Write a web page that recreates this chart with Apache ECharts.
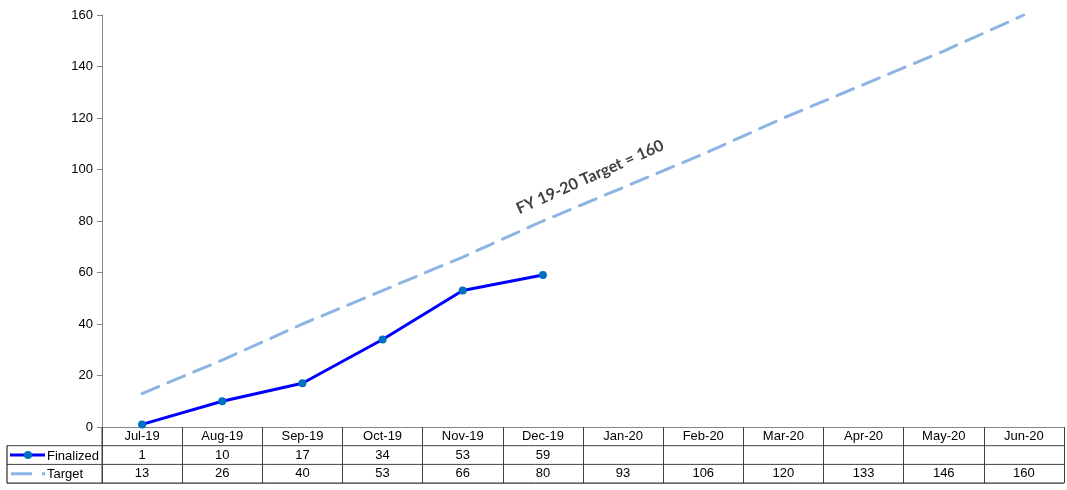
<!DOCTYPE html>
<html>
<head>
<meta charset="utf-8">
<script src="https://cdn.jsdelivr.net/npm/echarts@6/dist/echarts.min.js"></script>
<style>
  html, body { margin: 0; padding: 0; background: #fff; }
  #chart { width: 1067px; height: 490px; }
</style>
</head>
<body>
<div id="chart"></div>
<script>
const months = ['Jul-19', 'Aug-19', 'Sep-19', 'Oct-19', 'Nov-19', 'Dec-19', 'Jan-20', 'Feb-20', 'Mar-20', 'Apr-20', 'May-20', 'Jun-20'];
const finalized = [1, 10, 17, 34, 53, 59, null, null, null, null, null, null];
const target = [13, 26, 40, 53, 66, 80, 93, 106, 120, 133, 146, 160];
const yTicks = { min: 0, max: 160, step: 20 };

const font = 'Liberation Sans, Arial, sans-serif';
const lineColor = '#404040';

// layout of the plot + data table
const L = 102, R = 1064, T = 15, B = 427;
const rowH = 18.7;
const tableLeft = 7;
const rows = [B + rowH, B + 2 * rowH, B + 3 * rowH];

const chart = echarts.init(document.getElementById('chart'));

function rowAxis(idx, values) {
  return {
    type: 'category',
    data: months,
    position: 'bottom',
    offset: rowH * idx,
    boundaryGap: true,
    axisLine: { show: false },
    axisTick: { show: false },
    axisLabel: {
      interval: 0,
      margin: 3,
      color: '#000',
      fontFamily: font,
      fontSize: 13,
      formatter: (v, i) => (values[i] == null ? '' : String(values[i]))
    }
  };
}

const hLine = (y, x1, x2, color) => ({
  type: 'line',
  shape: { x1: x1, y1: y, x2: x2, y2: y },
  style: { stroke: color || lineColor, lineWidth: 1 },
  silent: true
});

chart.setOption({
  animation: false,
  grid: { left: L, right: 1067 - R, top: T, bottom: 490 - B },
  xAxis: [
    {
      type: 'category',
      data: months,
      boundaryGap: true,
      axisLine: { show: true, lineStyle: { color: '#868686', width: 1 } },
      axisTick: { show: true, interval: 0, length: rowH * 3, lineStyle: { color: lineColor } },
      axisLabel: { interval: 0, margin: 3, color: '#000', fontFamily: font, fontSize: 13 }
    },
    rowAxis(1, finalized),
    rowAxis(2, target)
  ],
  yAxis: {
    type: 'value',
    min: yTicks.min,
    max: yTicks.max,
    interval: yTicks.step,
    axisLine: { show: true, lineStyle: { color: '#868686', width: 1 } },
    axisTick: { show: true, length: 5, lineStyle: { color: '#868686' } },
    splitLine: { show: false },
    axisLabel: { color: '#000', fontFamily: font, fontSize: 13, margin: 9 }
  },
  series: [
    {
      name: 'Target',
      type: 'line',
      data: target,
      symbol: 'none',
      lineStyle: { color: '#8DB4E2', width: 3, type: [18, 10], cap: 'round' },
      z: 2
    },
    {
      name: 'Finalized',
      type: 'line',
      data: finalized,
      symbol: 'circle',
      symbolSize: 8,
      connectNulls: false,
      lineStyle: { color: '#0000FF', width: 3 },
      itemStyle: { color: '#0070C0' },
      z: 3
    }
  ],
  graphic: [
    // table row lines
    hLine(rows[0], tableLeft, R),
    hLine(rows[1], tableLeft, R),
    hLine(rows[2], tableLeft, R, '#000'),
    {
      type: 'line',
      shape: { x1: tableLeft, y1: rows[0], x2: tableLeft, y2: rows[2] },
      style: { stroke: '#000', lineWidth: 1 }
    },
    {
      type: 'line',
      shape: { x1: L, y1: B, x2: L, y2: rows[2] },
      style: { stroke: lineColor, lineWidth: 1 }
    },
    // legend keys in the table
    {
      type: 'line',
      shape: { x1: 10, y1: rows[0] + rowH / 2, x2: 45, y2: rows[0] + rowH / 2 },
      style: { stroke: '#0000FF', lineWidth: 3 }
    },
    {
      type: 'circle',
      shape: { cx: 28, cy: rows[0] + rowH / 2, r: 4 },
      style: { fill: '#0070C0' }
    },
    {
      type: 'text',
      x: 47, y: rows[0] + rowH / 2 + 1,
      style: { text: 'Finalized', font: '13px ' + font, fill: '#000', verticalAlign: 'middle' }
    },
    {
      type: 'line',
      shape: { x1: 11, y1: rows[1] + rowH / 2, x2: 32, y2: rows[1] + rowH / 2 },
      style: { stroke: '#8DB4E2', lineWidth: 3 }
    },
    {
      type: 'line',
      shape: { x1: 42, y1: rows[1] + rowH / 2, x2: 45, y2: rows[1] + rowH / 2 },
      style: { stroke: '#8DB4E2', lineWidth: 3 }
    },
    {
      type: 'text',
      x: 47, y: rows[1] + rowH / 2 + 1,
      style: { text: 'Target', font: '13px ' + font, fill: '#000', verticalAlign: 'middle' }
    },
    // annotation along the target line
    {
      type: 'text',
      x: 590, y: 177,
      rotation: 24 * Math.PI / 180,
      style: {
        text: 'FY 19-20 Target = 160',
        font: 'bold 16px Lato, "Open Sans", sans-serif',
        fill: '#404040',
        align: 'center',
        verticalAlign: 'middle'
      }
    }
  ]
});
</script>
</body>
</html>
